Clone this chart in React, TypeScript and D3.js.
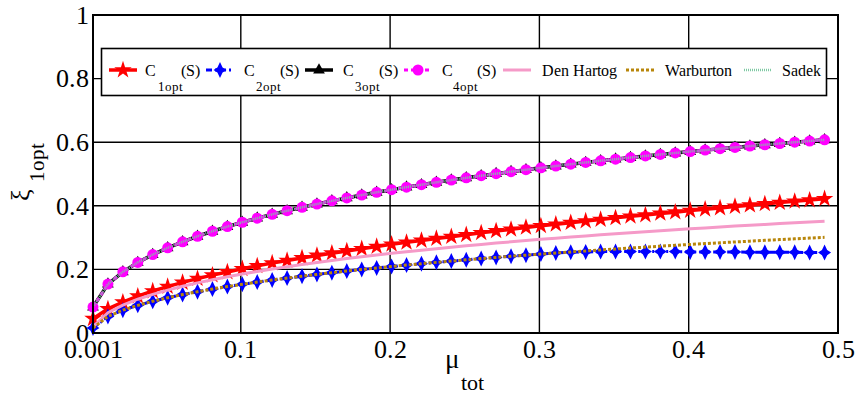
import React from "react";
import * as d3 from "d3";

const mu = [0.001, 0.011, 0.021, 0.031, 0.041, 0.051, 0.061, 0.071, 0.081, 0.091,
  0.101, 0.111, 0.121, 0.131, 0.141, 0.151, 0.161, 0.171, 0.181, 0.191,
  0.201, 0.211, 0.221, 0.231, 0.241, 0.251, 0.261, 0.271, 0.281, 0.291,
  0.301, 0.311, 0.321, 0.331, 0.341, 0.351, 0.361, 0.371, 0.381, 0.391,
  0.401, 0.411, 0.421, 0.431, 0.441, 0.451, 0.461, 0.471, 0.481, 0.491];

const c1opt = [0.045, 0.076, 0.097, 0.116, 0.132, 0.146, 0.159, 0.171, 0.182, 0.192,
  0.202, 0.211, 0.220, 0.228, 0.236, 0.244, 0.251, 0.258, 0.265, 0.272,
  0.279, 0.285, 0.291, 0.297, 0.303, 0.309, 0.315, 0.321, 0.326, 0.332,
  0.337, 0.342, 0.347, 0.352, 0.357, 0.362, 0.367, 0.371, 0.376, 0.380,
  0.385, 0.389, 0.393, 0.398, 0.402, 0.406, 0.410, 0.414, 0.418, 0.422];

const c2opt = [0.0158, 0.0522, 0.0719, 0.0870, 0.0997, 0.1108, 0.1208, 0.1298, 0.1382, 0.1460,
  0.1533, 0.1601, 0.1666, 0.1727, 0.1786, 0.1843, 0.1896, 0.1948, 0.1998, 0.2046,
  0.2092, 0.2136, 0.2179, 0.2221, 0.2262, 0.2301, 0.2340, 0.2377, 0.2413, 0.2448,
  0.2482, 0.2516, 0.254, 0.255, 0.256, 0.256, 0.256, 0.256, 0.256, 0.256,
  0.255, 0.255, 0.255, 0.255, 0.254, 0.254, 0.254, 0.254, 0.253, 0.253];

const c3opt = [0.0816, 0.1538, 0.1924, 0.2219, 0.2465, 0.2679, 0.2869, 0.3042, 0.3200, 0.3346,
  0.3483, 0.3611, 0.3731, 0.3845, 0.3953, 0.4056, 0.4155, 0.4248, 0.4338, 0.4425,
  0.4507, 0.4587, 0.4664, 0.4738, 0.4810, 0.4879, 0.4947, 0.5011, 0.5074, 0.5135,
  0.5194, 0.5252, 0.5308, 0.5363, 0.5416, 0.5467, 0.5517, 0.5567, 0.5615, 0.5661,
  0.5707, 0.5751, 0.5795, 0.5837, 0.5879, 0.5920, 0.5959, 0.5999, 0.6037, 0.6074];

const c4opt = c3opt;
const sadek = c3opt;

const denHartog = [0.0194, 0.0639, 0.0878, 0.1062, 0.1216, 0.1349, 0.1469, 0.1577, 0.1676, 0.1769,
  0.1855, 0.1936, 0.2012, 0.2084, 0.2153, 0.2218, 0.2281, 0.2340, 0.2397, 0.2453,
  0.2505, 0.2556, 0.2605, 0.2653, 0.2699, 0.2743, 0.2786, 0.2828, 0.2868, 0.2908,
  0.2946, 0.2983, 0.3019, 0.3054, 0.3088, 0.3121, 0.3154, 0.3186, 0.3217, 0.3247,
  0.3276, 0.3305, 0.3333, 0.3361, 0.3388, 0.3414, 0.3440, 0.3466, 0.3490, 0.3515];

const warburton = [0.0158, 0.0522, 0.0719, 0.0870, 0.0997, 0.1108, 0.1208, 0.1298, 0.1382, 0.1460,
  0.1533, 0.1601, 0.1666, 0.1727, 0.1786, 0.1843, 0.1896, 0.1948, 0.1998, 0.2046,
  0.2092, 0.2136, 0.2179, 0.2221, 0.2262, 0.2301, 0.2340, 0.2377, 0.2413, 0.2448,
  0.2482, 0.2516, 0.2548, 0.2580, 0.2612, 0.2642, 0.2672, 0.2701, 0.2730, 0.2757,
  0.2785, 0.2811, 0.2837, 0.2863, 0.2888, 0.2913, 0.2937, 0.2961, 0.2984, 0.3008];

const xTicks = [0.001, 0.1, 0.2, 0.3, 0.4, 0.5];
const xTickLabels = ["0.001", "0.1", "0.2", "0.3", "0.4", "0.5"];
const yTicks = [0, 0.2, 0.4, 0.6, 0.8, 1];
const yTickLabels = ["0", "0.2", "0.4", "0.6", "0.8", "1"];
const xGrid = [0.1, 0.2, 0.3, 0.4];
const yGrid = [0.2, 0.4, 0.6, 0.8];

const W = 855, H = 405;
const L = 93, R = 838, T = 15, B = 333;

const x = d3.scaleLinear().domain([0.001, 0.5]).range([L, R]);
const y = d3.scaleLinear().domain([0, 1]).range([B, T]);

const star5 = d3.symbol().type(d3.symbolStar).size(95)() as string;
const tri = d3.symbol().type(d3.symbolTriangle).size(60)() as string;
const star4 = "M0,-8L2.6,-2.6L6.5,0L2.6,2.6L0,8L-2.6,2.6L-6.5,0L-2.6,-2.6Z";

type Series = {
  key: string;
  values: number[];
  color: string;
  width: number;
  dash?: string;
  marker?: "star5" | "star4" | "tri" | "circle";
};

const series: Series[] = [
  { key: "c1", values: c1opt, color: "#ff0000", width: 3.5, marker: "star5" },
  { key: "c2", values: c2opt, color: "#0000ff", width: 3, dash: "6,3,2,3", marker: "star4" },
  { key: "c3", values: c3opt, color: "#000000", width: 3.5, marker: "tri" },
  { key: "c4", values: c4opt, color: "#ff00ff", width: 3, dash: "4,3", marker: "circle" },
  { key: "dh", values: denHartog, color: "#f59ac8", width: 3 },
  { key: "wb", values: warburton, color: "#b8860b", width: 3, dash: "3,2" },
  { key: "sd", values: sadek, color: "#7fc9a4", width: 2.5, dash: "1,1" },
];

function Marker({ type, cx, cy, color }: { type?: string; cx: number; cy: number; color: string }) {
  if (!type) return null;
  if (type === "circle") return <circle cx={cx} cy={cy} r={5.5} fill={color} />;
  const d = type === "star5" ? star5 : type === "tri" ? tri : star4;
  return <path d={d} transform={`translate(${cx},${cy})`} fill={color} />;
}

const FACE_CSS = `@font-face { font-family: "ChartSerif"; src: local("Liberation Serif"), local("LiberationSerif"), local("LiberationSerif-Regular"), local("Times New Roman"); }`;
const FAM = '"ChartSerif", "Liberation Serif", "Times New Roman", Tinos, FreeSerif, serif';

function T2(props: any) {
  const { children, ...rest } = props;
  return (
    <text {...rest} style={{ fontFamily: FAM }} fill="#000">
      {children}
    </text>
  );
}

const legendY = 70;
const legendItems = [
  { s: 0, x0: 109, label: "C", sub: "1opt", tail: "(S)", cX: 145, subX: 158, tailX: 181 },
  { s: 1, x0: 206, label: "C", sub: "2opt", tail: "(S)", cX: 244, subX: 256, tailX: 280 },
  { s: 2, x0: 305, label: "C", sub: "3opt", tail: "(S)", cX: 343, subX: 355, tailX: 379 },
  { s: 3, x0: 404, label: "C", sub: "4opt", tail: "(S)", cX: 442, subX: 453, tailX: 477 },
  { s: 4, x0: 503, label: "Den Hartog", cX: 542 },
  { s: 5, x0: 626, label: "Warburton", cX: 665 },
  { s: 6, x0: 744, label: "Sadek", cX: 782 },
];

export default function App() {
  const line = d3.line<number>().x((_, i) => x(mu[i])).y((v) => y(v));
  return (
    <svg width={W} height={H} style={{ position: "absolute", left: 0, top: 0, background: "#fff" }}>
      <style>{FACE_CSS}</style>
      <rect x={0} y={0} width={W} height={H} fill="#fff" />
      {xGrid.map((g) => (
        <line key={"xg" + g} x1={x(g)} x2={x(g)} y1={T} y2={B} stroke="#000" strokeWidth={1.4} />
      ))}
      {yGrid.map((g) => (
        <line key={"yg" + g} x1={L} x2={R} y1={y(g)} y2={y(g)} stroke="#000" strokeWidth={1.4} />
      ))}
      {series.map((s) => (
        <g key={s.key}>
          <path d={line(s.values) || ""} fill="none" stroke={s.color} strokeWidth={s.width}
            strokeDasharray={s.dash} />
          {s.marker && s.values.map((v, i) => (
            <Marker key={i} type={s.marker} cx={x(mu[i])} cy={y(v)} color={s.color} />
          ))}
        </g>
      ))}
      <rect x={L} y={T} width={R - L} height={B - T} fill="none" stroke="#000" strokeWidth={2} />
      <rect x={101.5} y={48.5} width={725} height={47} fill="#fff" stroke="#000" strokeWidth={1.6} />
      {legendItems.map((it) => {
        const s = series[it.s];
        return (
          <g key={"lg" + it.s}>
            <line x1={it.x0} x2={it.x0 + 28} y1={legendY} y2={legendY} stroke={s.color}
              strokeWidth={s.width} strokeDasharray={s.dash} />
            <Marker type={s.marker} cx={it.x0 + 14} cy={legendY} color={s.color} />
            <T2 x={it.cX} y={76} fontSize={16}>{it.label}</T2>
            {it.sub && <T2 x={it.subX} y={90.5} fontSize={13}>{it.sub}</T2>}
            {it.tail && <T2 x={it.tailX} y={76} fontSize={16}>{it.tail}</T2>}
          </g>
        );
      })}
      {yTicks.map((t, i) => (
        <T2 key={"yt" + t} x={89} y={y(t)} dy="0.34em" textAnchor="end" fontSize={26}>
          {yTickLabels[i]}
        </T2>
      ))}
      {xTicks.map((t, i) => (
        <T2 key={"xt" + t} x={x(t)} y={358} textAnchor="middle" fontSize={26}>
          {xTickLabels[i]}
        </T2>
      ))}
      <T2 x={445} y={368} fontSize={27}>μ</T2>
      <T2 x={461} y={390} fontSize={22}>tot</T2>
      <T2 transform="translate(29,201) rotate(-90)" fontSize={26}>ξ</T2>
      <T2 transform="translate(44,182) rotate(-90)" fontSize={21}>1opt</T2>
    </svg>
  );
}
